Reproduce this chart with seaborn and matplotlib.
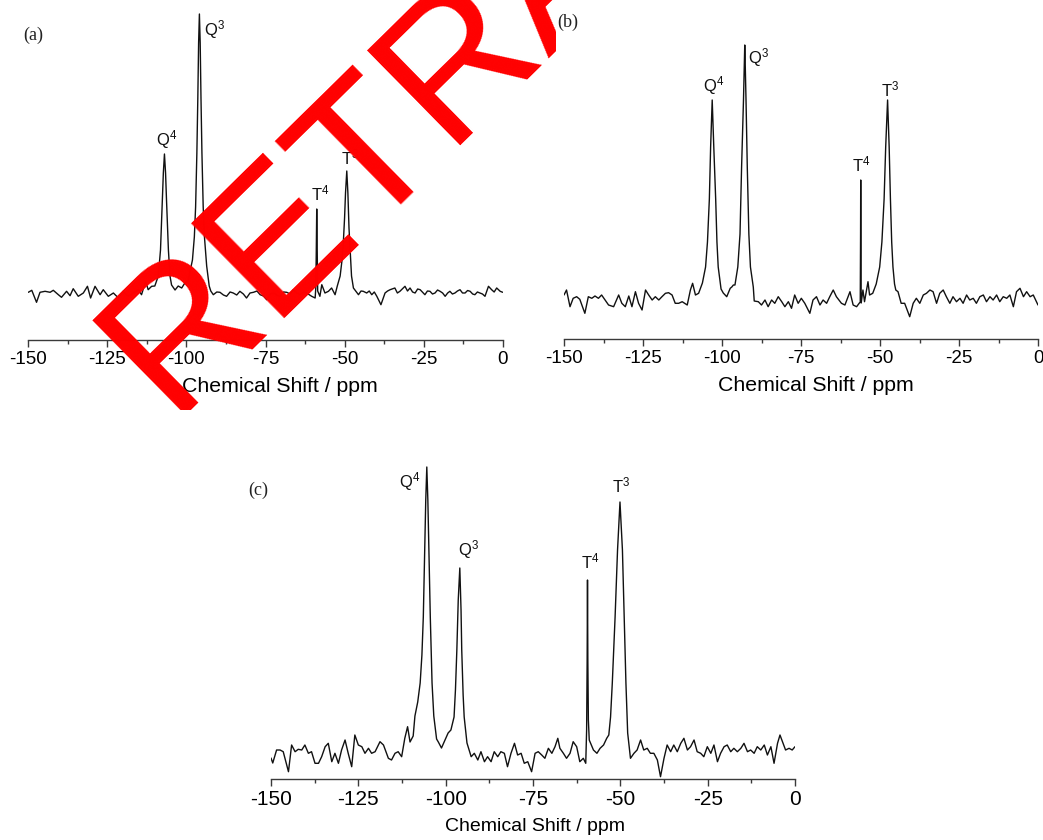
import matplotlib
matplotlib.use('Agg')
import matplotlib.pyplot as plt
from matplotlib.ticker import MultipleLocator
import seaborn as sns

# ---------------- data: (chemical shift ppm, intensity) ----------------
a_points = [
    (-150.0, 0.7), (-148.9, 2.7), (-147.4, -9.3), (-146.3, 0.7), (-144.7, 1.7), (-143.1, 0.7),
    (-142.1, 2.7), (-140.5, -1.7), (-139.5, -4.3), (-137.9, 1.7), (-136.8, -2.7), (-135.8, 4.3),
    (-134.2, -3.3), (-132.6, 0.0), (-131.3, 6.7), (-130.3, -5.0), (-128.9, 6.7), (-127.3, -1.7),
    (-126.3, 3.3), (-124.7, -3.3), (-123.1, 0.0), (-121.5, -5.0), (-120.0, 1.7), (-118.4, -3.3),
    (-116.8, 0.0), (-115.2, 3.3), (-114.2, -1.7), (-112.9, 11.7), (-112.1, 3.3), (-111.0, 6.7),
    (-110.0, 7), (-108.9, 17), (-108.2, 43), (-107.6, 93), (-107.3, 120), (-106.95, 139),
    (-106.6, 120), (-106.3, 93), (-105.7, 43), (-105.2, 17), (-104.7, 8), (-103.6, 3),
    (-102.6, 7), (-101.5, 5), (-100.5, 10), (-99.4, 12), (-98.7, 24), (-98.1, 33),
    (-97.5, 56), (-97.1, 86), (-96.7, 140), (-96.4, 195), (-96.15, 250), (-95.9, 279),
    (-95.65, 250), (-95.4, 195), (-95.1, 140), (-94.7, 86), (-94.3, 56), (-93.6, 27),
    (-92.8, 7), (-92.3, 2), (-91.5, -1.7), (-90.4, 1.0), (-89.4, 0.7), (-88.3, -2.0),
    (-87.3, -3.3), (-86.2, 1.0), (-85.2, 0.0), (-84.1, -2.0), (-83.1, 1.7), (-82.0, -1.0),
    (-81.0, -5.0), (-79.9, 0.0), (-78.8, 0.7), (-77.7, 2.0), (-76.7, -1.7), (-75.6, -3.0),
    (-74.6, -6.7), (-73.5, -1.0), (-72.5, 0.0), (-71.4, -2.0), (-70.4, -3.3), (-69.3, 1.0),
    (-68.3, 0.7), (-67.2, -1.0), (-66.2, 3.3), (-65.1, 0.0), (-64.1, -1.7), (-63.0, 1.0),
    (-62.0, 0.0), (-61.0, -2.0), (-60.4, -3.3), (-59.3, -5.0), (-59.1, 5), (-58.95, 40),
    (-58.8, 84), (-58.65, 40), (-58.5, 2), (-57.8, -3.3), (-57.2, 8.3), (-56.2, 0.0),
    (-55.1, 1.7), (-54.1, 5.0), (-53.0, -1.7), (-52.3, 7), (-51.4, 17), (-50.8, 33),
    (-50.4, 50), (-50.0, 75), (-49.7, 100), (-49.3, 122), (-48.95, 100), (-48.6, 65),
    (-48.2, 40), (-47.8, 17), (-47.2, 5), (-46.5, 2), (-45.6, -1.7), (-44.8, 2.0),
    (-44.1, 1.7), (-43.0, 0.0), (-42.2, 2.0), (-41.4, -1.7), (-40.6, 1.0), (-39.8, -3.3),
    (-38.5, -11.7), (-37.2, 0.0), (-36.4, 2.0), (-35.6, 3.3), (-34.1, 5.0), (-33.3, 0.0),
    (-32.5, 1.7), (-30.9, 6.7), (-30.1, 2.0), (-29.3, 5.0), (-28.5, 1.0), (-27.7, 0.0),
    (-26.9, 4.0), (-26.1, 3.3), (-24.6, -1.7), (-23.8, 2.0), (-23.0, 1.7), (-22.2, -1.0),
    (-21.4, 0.0), (-20.6, 3.0), (-19.8, 1.7), (-19.0, 0.0), (-18.2, -3.3), (-17.4, 0.0),
    (-16.7, 1.7), (-15.9, -1.0), (-15.1, 0.0), (-14.3, 2.0), (-13.5, 3.3), (-12.7, 0.0),
    (-11.9, 0.0), (-11.1, 2.5), (-10.3, 1.7), (-9.5, -1.0), (-8.8, -1.7), (-8.0, 1.0),
    (-7.2, 0.0), (-6.4, -1.0), (-5.6, -3.3), (-4.5, 6.7), (-3.5, 3.3), (-2.7, 1.0),
    (-1.9, 5.0), (-0.8, 1.7), (0.0, 0.7)]

b_points = [
    (-150.0, 2.0), (-149.2, 7.0), (-148.1, -9.7), (-147.1, -1.3), (-146.0, 0.3), (-145.0, -2.3),
    (-143.4, -16.3), (-142.3, 0.3), (-141.2, -1.3), (-140.2, 1.0), (-139.1, -1.3), (-138.1, 2.0),
    (-137.0, -3.0), (-135.9, -8.0), (-134.3, -9.7), (-132.7, 2.0), (-131.7, -6.3), (-130.6, -9.7),
    (-129.5, 1.0), (-128.5, -9.7), (-127.4, 5.3), (-126.4, -6.3), (-125.3, -13.0), (-124.2, 7.0),
    (-123.2, 2.0), (-122.1, -3.0), (-121.1, 0.3), (-120.0, -3.0), (-119.0, 0.3), (-117.9, 3.7),
    (-116.9, 4.3), (-115.8, 2.0), (-114.8, -6.3), (-113.7, -6.3), (-112.6, -4.7), (-111.0, -8.0),
    (-110.0, 7.0), (-109.3, 13.7), (-108.4, 2.0), (-107.4, 3.7), (-106.2, 14), (-105.2, 30),
    (-104.6, 55), (-104.0, 98), (-103.6, 150), (-103.1, 197), (-102.6, 150), (-102.0, 98),
    (-101.6, 55), (-101.2, 30), (-100.3, 8), (-99.6, 4.0), (-99.0, 2.0), (-98.5, 0.3),
    (-97.9, 5.0), (-97.4, 8.7), (-96.9, 10), (-96.4, 12), (-95.9, 12), (-95.0, 30),
    (-94.3, 63), (-93.8, 130), (-93.2, 197), (-92.9, 240), (-92.8, 252), (-92.7, 240),
    (-92.4, 197), (-92.0, 130), (-91.5, 63), (-91.0, 30), (-90.1, 10), (-89.8, -4.0),
    (-88.5, -4.7), (-87.5, -8.0), (-86.4, -3.0), (-85.4, -9.7), (-84.3, -3.0), (-83.3, -6.3),
    (-82.2, 0.3), (-81.1, -4.7), (-80.1, -9.7), (-79.0, -4.7), (-78.0, -11.3), (-77.0, 2.0),
    (-75.9, -6.3), (-74.9, -1.3), (-73.8, -6.3), (-72.2, -16.3), (-71.2, -3.0), (-70.1, 0.3),
    (-69.0, -8.0), (-68.0, -3.0), (-66.9, -6.3), (-65.9, 0.3), (-64.8, 7.0), (-63.8, 0.3),
    (-62.2, -6.3), (-61.1, -8.0), (-59.5, 5.3), (-58.5, -8.0), (-57.4, -9.7), (-56.6, -6.3),
    (-56.25, -5.0), (-56.15, 60), (-56.1, 117), (-56.05, 60), (-55.95, -6.0), (-55.4, 7.0),
    (-54.9, -4.7), (-53.8, 15.3), (-53.3, 2.0), (-52.3, 3.7), (-51.2, 13), (-50.1, 30),
    (-49.4, 55), (-48.7, 98), (-48.2, 150), (-47.6, 197), (-47.1, 150), (-46.7, 98),
    (-46.3, 55), (-45.9, 30), (-45.4, 13), (-45.0, 7.0), (-44.3, 5.3), (-43.3, -6.3),
    (-42.2, -6.3), (-40.6, -19.7), (-39.5, -6.3), (-38.5, -1.3), (-37.4, -6.3), (-36.3, 2.0),
    (-35.3, 3.7), (-34.2, 7.0), (-33.2, 5.3), (-32.1, -6.3), (-31.1, 3.7), (-30.0, 7.0),
    (-29.0, 0.3), (-27.9, -6.3), (-26.9, 0.3), (-25.8, -4.7), (-24.7, -1.3), (-23.7, -6.3),
    (-22.6, 2.0), (-21.6, -3.0), (-20.5, -1.3), (-19.5, -6.3), (-18.4, 0.3), (-17.3, 2.0),
    (-16.3, -4.7), (-15.2, 0.3), (-14.2, -3.0), (-13.1, 2.0), (-12.1, -4.7), (-11.0, 0.3),
    (-9.9, -1.3), (-8.9, 2.0), (-7.8, -9.7), (-6.8, 5.3), (-5.7, 8.7), (-4.6, 0.3),
    (-3.6, 5.3), (-2.5, 0.3), (-1.5, 2.0), (0.0, -8.0)]

c_points = [
    (-150.0, -8.0), (-149.5, -13.0), (-148.4, 0.0), (-147.4, 0.0), (-146.5, -1.7), (-145.0, -21.7),
    (-144.1, 5.0), (-143.1, -1.7), (-142.2, 0.7), (-141.2, 0.0), (-140.3, 5.0), (-139.3, -3.3),
    (-138.4, -1.7), (-137.4, -13.3), (-136.4, -13.3), (-135.5, -6.7), (-134.5, 3.3), (-133.6, 6.7),
    (-132.6, -11.7), (-131.7, -3.3), (-130.7, -13.3), (-129.8, 0.0), (-128.8, 10.0), (-127.9, -3.3),
    (-126.9, -16.7), (-126.0, 15.0), (-125.0, 5.0), (-124.0, 3.3), (-123.1, -3.3), (-122.1, 1.7),
    (-121.2, -3.3), (-120.2, -1.7), (-118.8, 8.3), (-117.8, 5.0), (-116.4, -8.3), (-115.5, -10.0),
    (-114.5, -3.3), (-113.6, -1.7), (-112.6, -6.7), (-111.7, 11.7), (-110.9, 23.3), (-110.2, 8.0),
    (-109.3, 14), (-108.8, 34), (-108.0, 48), (-107.3, 67), (-106.8, 95), (-106.4, 133),
    (-106.0, 198), (-105.7, 250), (-105.4, 283), (-105.1, 250), (-104.8, 198), (-104.4, 133),
    (-103.9, 67), (-103.4, 34), (-102.6, 11), (-102.1, 8), (-101.2, 2), (-100.2, 10),
    (-99.3, 17), (-98.5, 20), (-97.6, 33), (-97.2, 60), (-96.8, 100), (-96.4, 150),
    (-95.95, 182), (-95.6, 140), (-95.4, 100), (-95.0, 55), (-94.7, 33), (-93.9, 7),
    (-92.7, -6.7), (-91.8, -3.3), (-90.8, -10.0), (-89.9, -1.7), (-88.9, -11.7), (-88.0, -6.7),
    (-87.0, -11.7), (-86.1, -1.7), (-85.1, -6.7), (-84.2, -1.7), (-83.2, -3.3), (-82.3, -16.7),
    (-81.3, -3.3), (-80.3, 6.7), (-79.4, -5.0), (-78.4, -3.3), (-77.5, -13.3), (-76.5, -11.7),
    (-75.4, -21.7), (-74.4, -3.3), (-73.5, -1.7), (-72.5, -5.0), (-71.6, -8.3), (-70.6, 1.7),
    (-69.6, -3.3), (-68.7, 3.3), (-67.9, 11.7), (-67.3, 1.7), (-66.3, -3.3), (-65.4, -8.3),
    (-64.4, -3.3), (-63.5, 8.3), (-62.5, 3.3), (-61.6, -11.7), (-60.6, -8.3), (-59.9, -13.3),
    (-59.65, 20), (-59.5, 90), (-59.4, 170), (-59.3, 90), (-59.15, 30), (-58.9, 10),
    (-57.7, 0.0), (-56.7, -3.3), (-55.8, 1.7), (-54.8, 5.0), (-53.9, 11.7), (-53.3, 15),
    (-52.8, 33), (-52.3, 67), (-51.5, 133), (-50.8, 200), (-50.1, 248), (-49.4, 200),
    (-48.9, 133), (-48.4, 67), (-47.9, 17), (-47.1, -8.3), (-46.1, -3.3), (-45.2, 0.0),
    (-44.2, 10.0), (-43.3, 0.0), (-42.3, 1.7), (-41.4, -3.3), (-40.4, -3.3), (-39.4, -10.0),
    (-38.5, -26.7), (-37.5, -8.3), (-36.6, 5.0), (-35.6, -1.7), (-34.7, 5.0), (-33.7, -1.7),
    (-32.7, 6.7), (-31.8, 11.7), (-30.8, 0.0), (-29.9, 3.3), (-28.9, 10.0), (-28.0, -1.7),
    (-27.0, -3.3), (-26.1, -6.7), (-25.1, 3.3), (-24.1, -3.3), (-23.2, 5.0), (-22.2, -11.7),
    (-21.3, -3.3), (-20.3, 3.3), (-19.4, 5.0), (-18.4, -1.7), (-17.5, 1.7), (-16.5, -1.7),
    (-15.5, 1.7), (-14.6, 6.7), (-13.6, -1.7), (-12.7, 0.0), (-11.7, -3.3), (-10.8, 3.3),
    (-9.8, 0.0), (-8.8, 5.0), (-7.9, -5.0), (-6.9, 3.3), (-6.0, -13.3), (-5.0, 6.7),
    (-4.3, 15.0), (-3.6, 8.3), (-2.7, 0.0), (-1.7, 1.7), (-0.8, 0.0), (0.0, 3.3)]

tick_values = [-150, -125, -100, -75, -50, -25, 0]
tick_labels = ['-150', '-125', '-100', '-75', '-50', '-25', '0']
x_label = 'Chemical Shift / ppm'
panel_letters = ['(a)', '(b)', '(c)']

# peak labels per panel: (text, ppm, intensity)
a_peaks = [('Q$^{4}$', -106.2, 153), ('Q$^{3}$', -91.0, 263), ('T$^{4}$', -57.8, 100), ('T$^{3}$', -48.3, 136)]
b_peaks = [('Q$^{4}$', -102.5, 211), ('Q$^{3}$', -88.3, 239), ('T$^{4}$', -56.0, 133), ('T$^{3}$', -46.8, 208)]
c_peaks = [('Q$^{4}$', -110.4, 268), ('Q$^{3}$', -93.4, 200), ('T$^{4}$', -58.6, 189), ('T$^{3}$', -49.7, 265)]

# ---------------- style ----------------
sns.set_theme(style='ticks')
plt.rcParams['font.family'] = ['Liberation Sans', 'DejaVu Sans']
plt.rcParams['mathtext.fontset'] = 'custom'
plt.rcParams['mathtext.rm'] = 'Liberation Sans'
plt.rcParams['mathtext.it'] = 'Liberation Sans'
plt.rcParams['mathtext.default'] = 'regular'
plt.rcParams['axes.unicode_minus'] = False

W, H = 1043, 840
fig = plt.figure(figsize=(W / 100, H / 100), dpi=100)
fig.patch.set_facecolor('white')


def rect(x0, x1, ytop, ybot):
    return [x0 / W, 1 - ybot / H, (x1 - x0) / W, (ybot - ytop) / H]


axis_grey = '#3a3a3a'
panels = [
    dict(pts=a_points, rect=rect(28.3, 502.7, 0, 340), ylim=(-47, 293), peaks=a_peaks,
         letter=(23, 35), lab=(0.531, -0.108), tsize=13.5, lsize=15.3),
    dict(pts=b_points, rect=rect(564, 1038, 0, 339), ylim=(-42, 297), peaks=b_peaks,
         letter=(557, 22), lab=(0.532, -0.108), tsize=13.5, lsize=15.3),
    dict(pts=c_points, rect=rect(271, 795, 440, 779), ylim=(-29, 310), peaks=c_peaks,
         letter=(248, 490), lab=(0.504, -0.115), tsize=15, lsize=14),
]

for p, letter in zip(panels, panel_letters):
    ax = fig.add_axes(p['rect'])
    ax.patch.set_alpha(0)
    xs = [q[0] for q in p['pts']]
    ys = [q[1] for q in p['pts']]
    sns.lineplot(x=xs, y=ys, ax=ax, color='#111111', linewidth=1.0,
                 estimator=None, sort=False)
    ax.set_xlim(-150, 0)
    ax.set_ylim(*p['ylim'])
    for s in ['left', 'right', 'top']:
        ax.spines[s].set_visible(False)
    ax.spines['bottom'].set_color(axis_grey)
    ax.spines['bottom'].set_linewidth(1.0)
    ax.set_yticks([])
    ax.set_xticks(tick_values)
    ax.set_xticklabels(tick_labels)
    ax.xaxis.set_minor_locator(MultipleLocator(12.5))
    ax.tick_params(axis='x', which='major', direction='out', length=5, width=1.0,
                   color=axis_grey, labelsize=p['tsize'], pad=3, labelcolor='black')
    ax.tick_params(axis='x', which='minor', direction='out', length=3, width=1.0,
                   color=axis_grey)
    ax.set_xlabel(x_label, fontsize=p['lsize'], color='black')
    ax.xaxis.set_label_coords(*p['lab'])
    ax.set_ylabel('')
    for txt, px, py in p['peaks']:
        ax.text(px, py, txt, ha='center', va='center', fontsize=12, color='#111111')
    fig.text(p['letter'][0] / W, 1 - p['letter'][1] / H, letter, ha='left', va='center',
             fontsize=13, family='Liberation Serif', color='#222222')

# retraction watermark, clipped to the area of panel (a)
ax_wm = fig.add_axes(rect(0, 556, 0, 410))
ax_wm.axis('off')
ax_wm.text(170 / W, 1 - 416 / H, 'RETRACTED', transform=fig.transFigure,
           rotation=44.5, rotation_mode='anchor', ha='left', va='baseline',
           fontsize=139, color='#ff0000', clip_on=True, family='Liberation Sans')

fig.savefig('out.png', dpi=100, facecolor='white')
